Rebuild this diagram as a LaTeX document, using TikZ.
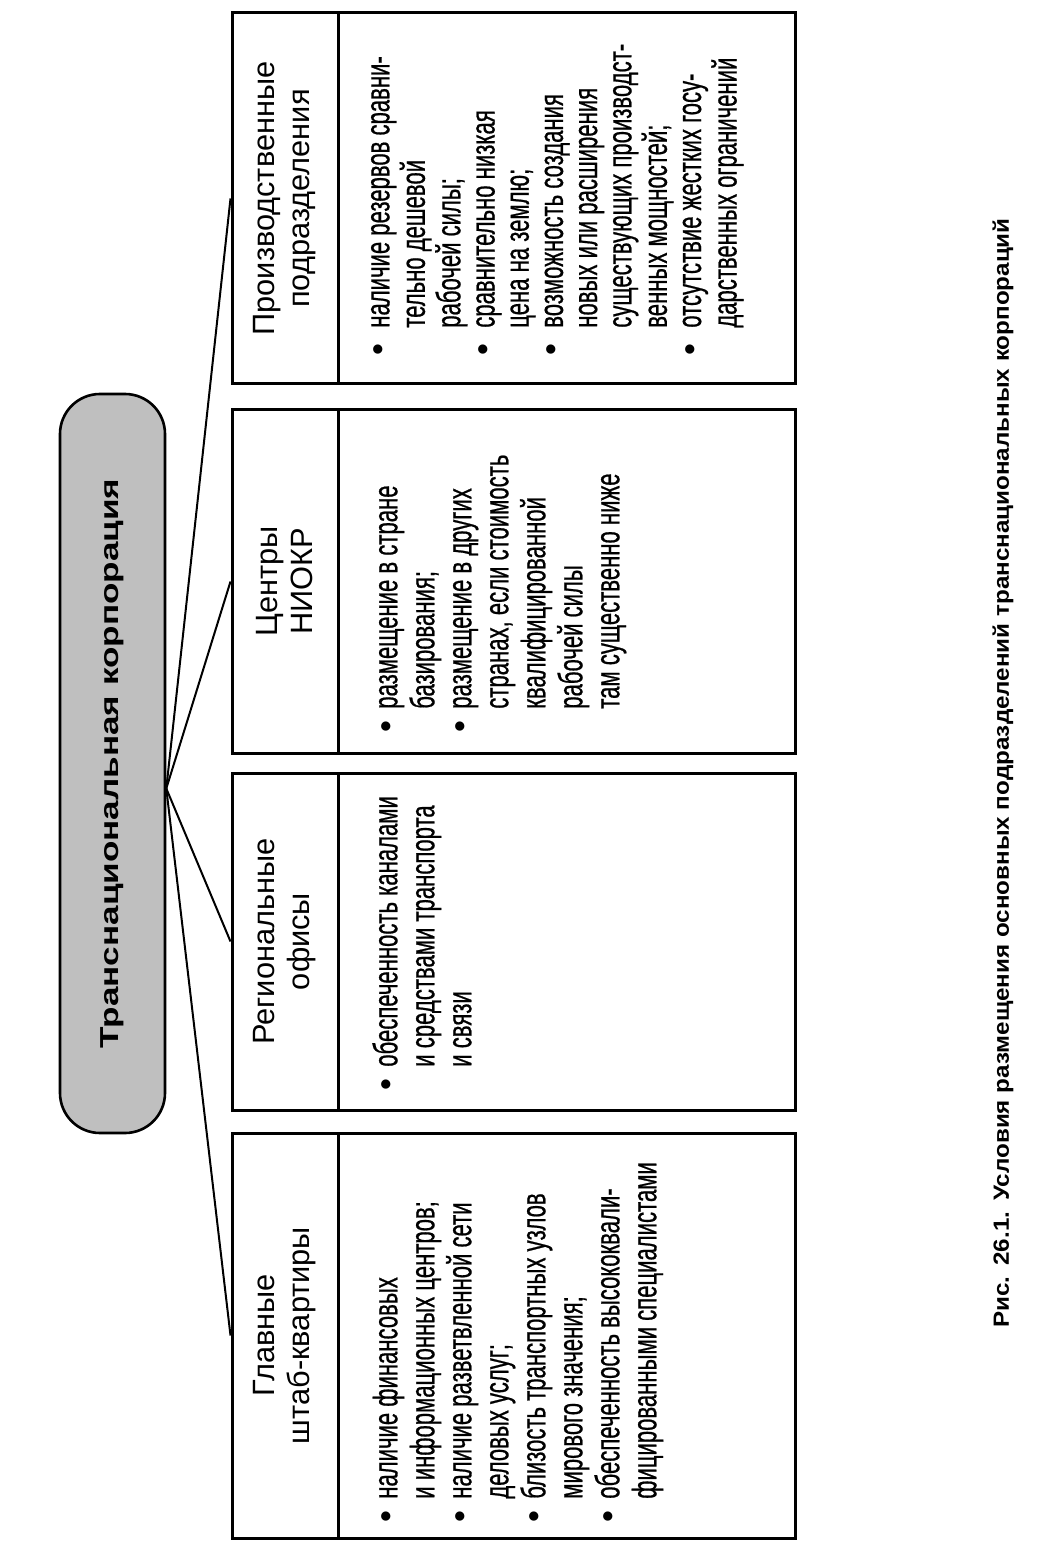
\documentclass[tikz,border=0pt]{standalone}
\usepackage{fontspec}
\setmainfont{Liberation Sans}
\newfontfamily\narrowfont[FakeStretch=0.65, FakeBold=0.6]{Liberation Sans}
\newfontfamily\widefont[FakeStretch=1.35]{Liberation Sans}
\newfontfamily\capfont[FakeStretch=1.1]{Liberation Sans}
\usetikzlibrary{calc}
\newcommand\blt{{\rmfamily\textbullet}}
\tikzset{
  cell/.style={draw, line width=1.5pt, rotate=90, inner sep=0pt},
  head/.style={cell, minimum height=53pt, align=center,
    font=\fontsize{15.4}{17.5}\selectfont},
  body/.style={cell, minimum height=228.5pt},
  items/.style={rotate=90, anchor=north west, inner sep=0pt,
    font=\narrowfont\fontsize{17}{18.5}\selectfont},
  link/.style={line width=1pt},
}
\begin{document}
\begin{tikzpicture}[x=0.5pt, y=-0.5pt]
\useasboundingbox (0,0) rectangle (1044,1566);

\node[draw, line width=1.3pt, rotate=90, rounded corners=20pt, fill=black!25,
  minimum width=369.5pt, minimum height=52.5pt,
  font=\widefont\bfseries\fontsize{13}{15}\selectfont]
  (tnk) at (112.5,763.5) {Транснациональная корпорация};
\coordinate (hub) at ($(tnk.south)+(0,25)$);

% Главные штаб-квартиры
\node[head, minimum width=202.5pt] (head1) at (285,1335.5) {Главные\\штаб-квартиры};
\node[body, minimum width=202.5pt] (body1) at (566.5,1335.5) {};
\node[items] (list1) at (371,1523) {\begin{tabular}{@{}l@{\hspace{6pt}}l@{}}
\blt & наличие финансовых\\
 & и информационных центров;\\
\blt & наличие разветвленной сети\\
 & деловых услуг;\\
\blt & близость транспортных узлов\\
 & мирового значения;\\
\blt & обеспеченность высококвали-\\
 & фицированными специалистами
\end{tabular}};

% Региональные офисы
\node[head, minimum width=168.5pt] (head2) at (285,941.5) {Региональные\\офисы};
\node[body, minimum width=168.5pt] (body2) at (566.5,941.5) {};
\node[items] (list2) at (371,1091) {\begin{tabular}{@{}l@{\hspace{6pt}}l@{}}
\blt & обеспеченность каналами\\
 & и средствами транспорта\\
 & и связи
\end{tabular}};

% Центры НИОКР
\node[head, minimum width=171.5pt] (head3) at (285,581.5) {Центры\\НИОКР};
\node[body, minimum width=171.5pt] (body3) at (566.5,581.5) {};
\node[items] (list3) at (371,733) {\begin{tabular}{@{}l@{\hspace{6pt}}l@{}}
\blt & размещение в стране\\
 & базирования;\\
\blt & размещение в других\\
 & странах, если стоимость\\
 & квалифицированной\\
 & рабочей силы\\
 & там существенно ниже
\end{tabular}};

% Производственные подразделения
\node[head, minimum width=185.5pt] (head4) at (285,198.5) {Производственные\\подразделения};
\node[body, minimum width=185.5pt] (body4) at (566.5,198.5) {};
\node[items, font=\narrowfont\fontsize{17}{17.1}\selectfont] (list4) at (365,356)
{\begin{tabular}{@{}l@{\hspace{8pt}}l@{}}
\blt & наличие резервов сравни-\\
 & тельно дешевой\\
 & рабочей силы;\\
\blt & сравнительно низкая\\
 & цена на землю;\\
\blt & возможность создания\\
 & новых или расширения\\
 & существующих производст-\\
 & венных мощностей;\\
\blt & отсутствие жестких госу-\\
 & дарственных ограничений
\end{tabular}};

\draw[link] (hub) -- (head1.north);
\draw[link] (hub) -- (head2.north);
\draw[link] (hub) -- (head3.north);
\draw[link] (hub) -- (head4.north);

\node[rotate=90, font=\capfont\bfseries\fontsize{11}{13}\selectfont] (caption) at (1003,773)
  {Рис.\hspace{0.5em}26.1.\hspace{0.5em}Условия размещения основных подразделений транснациональных корпораций};
\end{tikzpicture}
\end{document}
